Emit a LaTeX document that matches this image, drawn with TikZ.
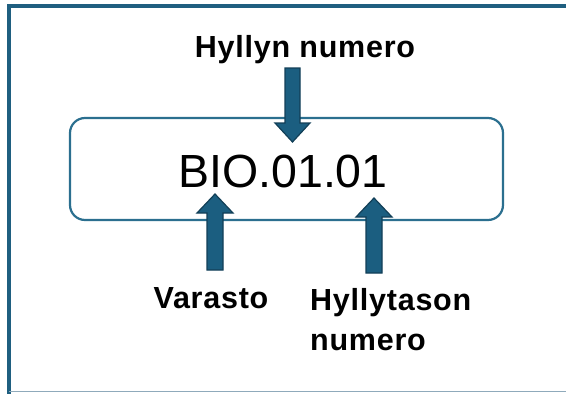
\documentclass[tikz,border=0pt]{standalone}
\usepackage{fontspec}
\setmainfont{Liberation Sans}
\newfontfamily\labelfont[LetterSpace=2.5]{Liberation Sans}
\definecolor{framec}{HTML}{1F5F80}
\definecolor{boxc}{HTML}{2B6F8F}
\definecolor{arrowfill}{HTML}{1B5E80}
\definecolor{arrowline}{HTML}{123F57}
\definecolor{edgec}{HTML}{8FAABB}
\tikzset{
  frameline/.style={draw=framec, line width=3.5pt},
  edgeline/.style={draw=edgec, line width=1.5pt},
  codebox/.style={draw=boxc, line width=2.2pt, rounded corners=15pt,
    minimum width=433pt, minimum height=102pt, inner sep=0pt},
  codetext/.style={font=\fontsize{46.5}{50}\selectfont, inner sep=0pt, anchor=base},
  labeltext/.style={font=\labelfont\fontsize{30.5}{40}\selectfont\bfseries, inner sep=0pt, anchor=base},
  blockarrow/.style={fill=arrowfill, draw=arrowline, line width=1.2pt, line join=miter}
}
\begin{document}
\begin{tikzpicture}[x=1pt, y=-1pt]
  \useasboundingbox (0,0) rectangle (566,394);
  % outer frame
  \draw[frameline] (9,394) -- (9,6) -- (566,6);
  \draw[edgeline] (9,391.5) -- (566,391.5);
  % code box and its text
  \node[codebox] (box) at (286.5,169) {};
  \node[codetext] (code) at (283,187) {BIO.01.01};
  % labels
  \node[labeltext] (shelf) at (305,57) {Hyllyn numero};
  \node[labeltext] (store) at (211,308) {Varasto};
  \node[labeltext, anchor=base west] (level) at (310,310) {Hyllytason};
  \node[labeltext, anchor=base west] (level2) at (310,350) {numero};
  % block arrows pointing into the box
  \draw[blockarrow] (285,68) -- (300,68) -- (300,123) -- (310,123) -- (292.5,142)
    -- (275,123) -- (285,123) -- cycle;
  \draw[blockarrow] (207,270) -- (223,270) -- (223,213) -- (233,213) -- (215,194)
    -- (197,213) -- (207,213) -- cycle;
  \draw[blockarrow] (366,273) -- (382,273) -- (382,217) -- (392,217) -- (374,198)
    -- (356,217) -- (366,217) -- cycle;
\end{tikzpicture}
\end{document}
